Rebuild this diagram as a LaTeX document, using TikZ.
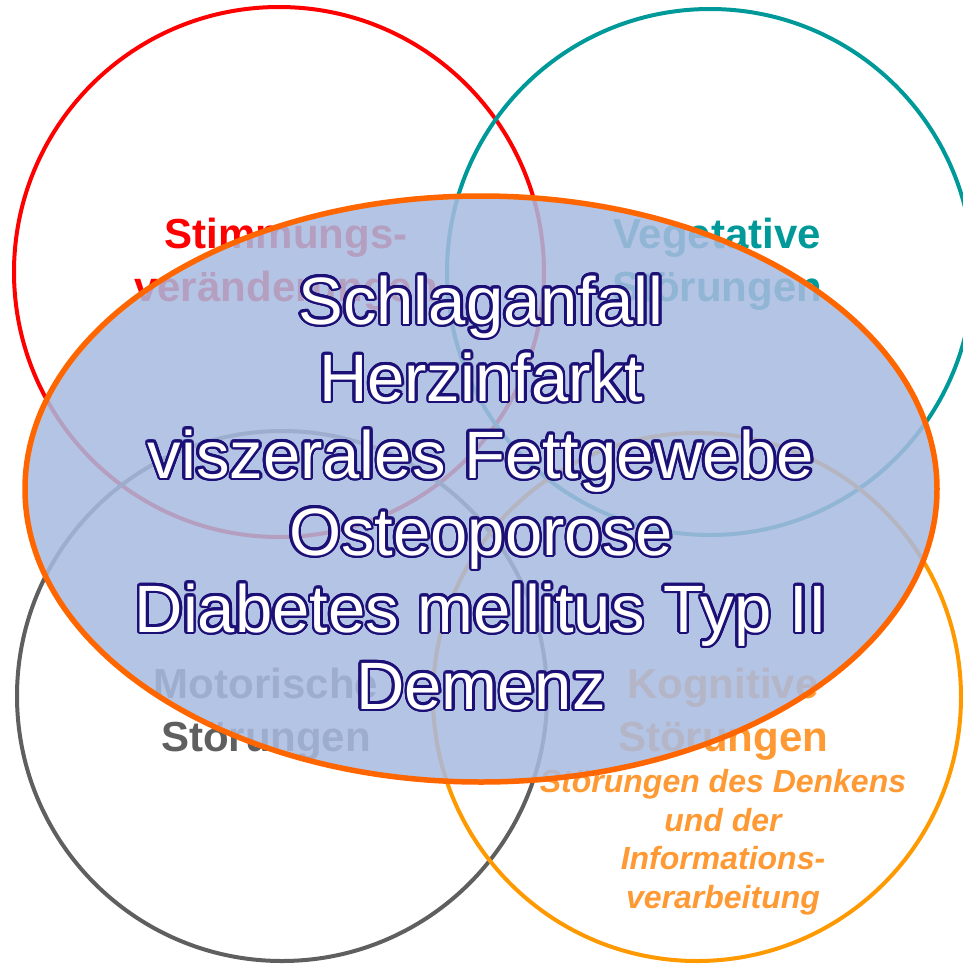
\documentclass[tikz,border=0pt]{standalone}
\usepackage{fontspec}
\setmainfont{Liberation Sans}
\usepackage{contour}
\contourlength{2.6pt}
\contournumber{24}
\definecolor{stimmungrot}{HTML}{FF0000}
\definecolor{vegetalgruen}{HTML}{009999}
\definecolor{motorgrau}{HTML}{5F5F5F}
\definecolor{kognitivorange}{HTML}{FF9900}
\definecolor{kognitivtext}{HTML}{FF9933}
\definecolor{ellipsenrand}{HTML}{FF6600}
\definecolor{ellipsenfuell}{RGB}{168,186,224}
\definecolor{tiefblau}{HTML}{1C1077}
\newcommand{\umriss}[1]{\contour{tiefblau}{#1}}
\tikzset{
  kreis/.style={line width=4pt},
  kreistext/.style={font=\bfseries\fontsize{42}{53}\selectfont, align=center},
  untertext/.style={font=\bfseries\itshape\fontsize{32}{38.5}\selectfont, align=center, text=kognitivtext},
  krankheit/.style={font=\fontsize{67}{77}\selectfont, align=center, text=white}
}
\begin{document}
\begin{tikzpicture}[x=1pt,y=-1pt]
        \useasboundingbox (0,0) rectangle (963,970);
        \coordinate (R) at (279,272);
        \coordinate (T) at (710,272);
        \coordinate (G) at (282,696);
        \coordinate (O) at (697,697);
        \coordinate (E) at (481,489);
        % vier Kreise
        \draw[kreis,stimmungrot] (R) circle[radius=265pt];
        \draw[kreis,vegetalgruen] (T) circle[radius=263pt];
        \draw[kreis,motorgrau] (G) circle[radius=265pt];
        \draw[kreis,kognitivorange] (O) circle[radius=264pt];
        \node[kreistext,text=stimmungrot] (stimmung) at (286,264) {Stimmungs-\\veränderungen};
        \node[kreistext,text=vegetalgruen] (vegetativ) at (717,264) {Vegetative\\Störungen};
        \node[kreistext,text=motorgrau] (motorik) at (266,714) {Motorische\\Störungen};
        \node[kreistext,text=kognitivtext] (kognition) at (723,714) {Kognitive\\Störungen};
        \node[untertext] (denken) at (723,842) {Störungen des Denkens\\und der\\Informations-\\verarbeitung};
        % Ellipse
        \draw[line width=5.5pt,ellipsenrand,fill=ellipsenfuell,fill opacity=0.86] (E) ellipse[x radius=456pt,y radius=293pt];
        \node[krankheit] (krank) at (481,494) {\umriss{Schlaganfall}\\\umriss{Herzinfarkt}\\\umriss{viszerales Fettgewebe}\\\umriss{Osteoporose}\\\umriss{Diabetes mellitus Typ II}\\\umriss{Demenz}};
    \end{tikzpicture}
\end{document}
